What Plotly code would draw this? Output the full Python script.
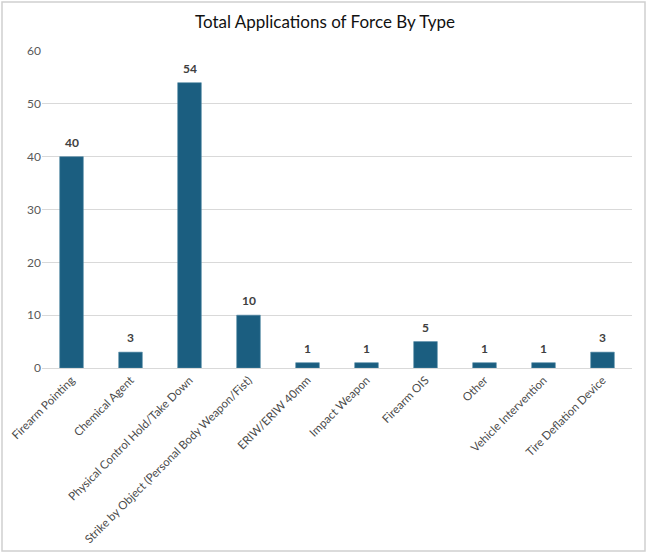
import plotly.graph_objects as go

CATEGORIES = [
    "Firearm Pointing",
    "Chemical Agent",
    "Physical Control Hold/Take Down",
    "Strike by Object (Personal Body Weapon/Fist)",
    "ERIW/ERIW 40mm",
    "Impact Weapon",
    "Firearm OIS",
    "Other",
    "Vehicle Intervention",
    "Tire Deflation Device",
]
COUNTS = [40, 3, 54, 10, 1, 1, 5, 1, 1, 3]
Y_TICKS = [0, 10, 20, 30, 40, 50, 60]

W, H = 650, 555
L, R, T, B = 42, 18, 51, 187
BAR_COLOR = "#1b5e80"
FONT = "Lato"

fig = go.Figure()
fig.add_trace(go.Bar(
    x=CATEGORIES,
    y=COUNTS,
    marker=dict(color=BAR_COLOR, line=dict(color="#4f86a3", width=0.6)),
    cliponaxis=False,
    hoverinfo="skip",
))

# value labels above the bars
for cat, val in zip(CATEGORIES, COUNTS):
    fig.add_annotation(
        x=cat, y=val, text=str(val), showarrow=False,
        yanchor="bottom", yshift=5,
        font=dict(family=FONT, size=12, color="#404040", weight="bold"),
    )

pw = W - L - R
ph = H - T - B
fig.add_shape(
    type="rect", xref="paper", yref="paper",
    x0=(2 - L) / pw, x1=(W - 5 - L) / pw,
    y0=-(H - 4 - T - ph) / ph, y1=1 + (T - 2) / ph,
    line=dict(color="#d0d0d0", width=1.5),
    layer="below",
)

fig.update_layout(
    width=W, height=H,
    margin=dict(l=L, r=R, t=T, b=B),
    paper_bgcolor="white",
    plot_bgcolor="white",
    font=dict(family=FONT, color="#595959", size=11),
    title=dict(
        text="Total Applications of Force By Type",
        x=0.5, xanchor="center", y=0.96, yanchor="middle",
        font=dict(family=FONT, size=17, color="#111111"),
    ),
    bargap=0.6,
    showlegend=False,
)
fig.update_xaxes(
    tickangle=-45,
    tickfont=dict(size=11.5, color="#4a4a4a"),
    showline=True, linecolor="#d9d9d9", linewidth=1,
    ticks="",
    automargin=False,
)
fig.update_yaxes(
    range=[0, 60],
    tickvals=Y_TICKS,
    tickfont=dict(size=12, color="#595959"),
    showgrid=True, gridcolor="#d9d9d9", gridwidth=1,
    zeroline=False,
    ticks="", ticklen=0,
    automargin=False,
)

fig.write_html("out.html", config={"displayModeBar": False},
               post_script="document.body.style.margin='0';")
